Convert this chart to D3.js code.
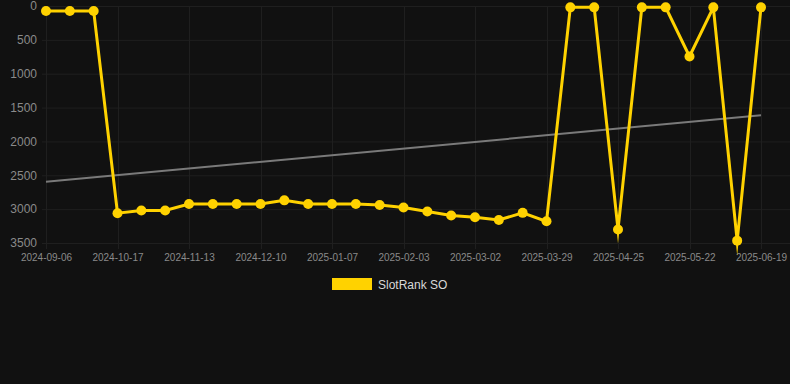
<!DOCTYPE html>
<html>
<head>
<meta charset="utf-8">
<script src="https://cdn.jsdelivr.net/npm/d3@7"></script>
<style>
html,body{margin:0;padding:0;background:#111111;}
svg{display:block;font-family:"Liberation Sans",Arial,sans-serif;}
</style>
</head>
<body>
<svg id="chart" width="790" height="384"></svg>
<script>
// Categories (only every third label is shown on the axis; in-between dates estimated)
const dates = [
  "2024-09-06","2024-09-20","2024-10-03","2024-10-17","2024-10-26","2024-11-04",
  "2024-11-13","2024-11-22","2024-12-01","2024-12-10","2024-12-19","2024-12-28",
  "2025-01-07","2025-01-16","2025-01-25","2025-02-03","2025-02-12","2025-02-21",
  "2025-03-02","2025-03-11","2025-03-20","2025-03-29","2025-04-07","2025-04-16",
  "2025-04-25","2025-05-04","2025-05-13","2025-05-22","2025-05-31","2025-06-10",
  "2025-06-19"
];
const rankValues = [
  75, 75, 75, 3060, 3020, 3020,
  2925, 2925, 2925, 2925, 2870, 2925,
  2925, 2925, 2940, 2975, 3035, 3095,
  3120, 3160, 3055, 3180, 20, 20,
  3300, 20, 20, 745, 20, 3465,
  20
];
const trendValues = [2595, 1615]; // trend line at first and last category
const yTicks = [0, 500, 1000, 1500, 2000, 2500, 3000, 3500];
const seriesName = "SlotRank SO";

const svg = d3.select("#chart");
const plot = {left: 42, right: 790, top: 6, bottom: 243};

const x = d3.scalePoint().domain(dates).range([46, 761]);
const y = d3.scaleLinear().domain([0, 3500]).range([plot.top, plot.bottom]);

const gridColor = "#1f1f1f";
const labelColor = "#8a8a8a";

// horizontal grid
svg.append("g").selectAll("line").data(yTicks).join("line")
  .attr("x1", plot.left).attr("x2", plot.right)
  .attr("y1", d => y(d) + 0.5).attr("y2", d => y(d) + 0.5)
  .attr("stroke", gridColor).attr("stroke-width", 1);

// vertical grid at labeled categories
const labeled = dates.filter((d, i) => i % 3 === 0);
svg.append("g").selectAll("line").data(labeled).join("line")
  .attr("x1", d => Math.round(x(d)) + 0.5).attr("x2", d => Math.round(x(d)) + 0.5)
  .attr("y1", plot.top).attr("y2", plot.bottom + 6)
  .attr("stroke", gridColor).attr("stroke-width", 1);

// y axis labels
const yAxis = d3.axisLeft(y).tickValues(yTicks).tickFormat(d3.format("d")).tickSize(0).tickPadding(0);
const gy = svg.append("g").attr("transform", "translate(37,0)").call(yAxis);
gy.select(".domain").remove();
gy.selectAll("text").attr("fill", labelColor).style("font-size", "12px")
  .style("font-family", "Liberation Sans, Arial, sans-serif");

// x axis labels
const xAxis = d3.axisBottom(x).tickValues(labeled).tickSize(0).tickPadding(0);
const gx = svg.append("g").attr("transform", `translate(0,${plot.bottom + 11})`).call(xAxis);
gx.select(".domain").remove();
gx.selectAll("text").attr("fill", labelColor).style("font-size", "10px")
  .style("font-family", "Liberation Sans, Arial, sans-serif");

// trend line
svg.append("line")
  .attr("x1", x(dates[0])).attr("x2", x(dates[dates.length - 1]))
  .attr("y1", y(trendValues[0])).attr("y2", y(trendValues[1]))
  .attr("stroke", "#7a7a7a").attr("stroke-width", 2);

// series line
const color = "#FFD200";
const line = d3.line().x((d, i) => x(dates[i])).y(d => y(d));
svg.append("path").datum(rankValues)
  .attr("d", line).attr("fill", "none")
  .attr("stroke", color).attr("stroke-width", 3)
  .attr("stroke-linejoin", "miter").attr("stroke-miterlimit", 10);

svg.append("g").selectAll("circle").data(rankValues).join("circle")
  .attr("cx", (d, i) => x(dates[i])).attr("cy", d => y(d))
  .attr("r", 5).attr("fill", color);

// legend
svg.append("rect").attr("x", 332).attr("y", 278).attr("width", 40).attr("height", 12)
  .attr("fill", color);
svg.append("text").attr("x", 378).attr("y", 289)
  .attr("fill", "#d8d8d8").style("font-size", "12px")
  .text(seriesName);
</script>
</body>
</html>
